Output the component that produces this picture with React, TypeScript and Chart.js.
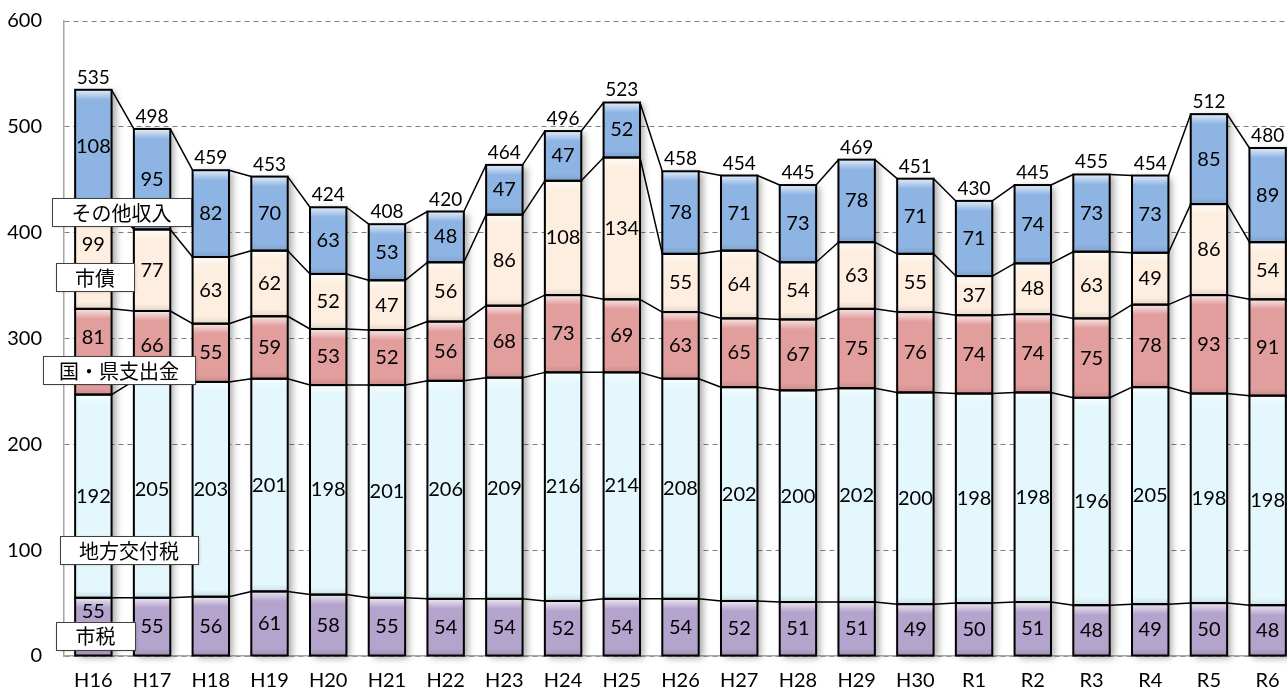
import React, { useEffect, useRef } from "react";
import { Chart, registerables } from "chart.js";
Chart.register(...registerables);

const categories = ["H16","H17","H18","H19","H20","H21","H22","H23","H24","H25","H26","H27","H28","H29","H30","R1","R2","R3","R4","R5","R6"];
const shizei = [55,55,56,61,58,55,54,54,52,54,54,52,51,51,49,50,51,48,49,50,48];
const kofuzei = [192,205,203,201,198,201,206,209,216,214,208,202,200,202,200,198,198,196,205,198,198];
const shishutsukin = [81,66,55,59,53,52,56,68,73,69,63,65,67,75,76,74,74,75,78,93,91];
const shisai = [99,77,63,62,52,47,56,86,108,134,55,64,54,63,55,37,48,63,49,86,54];
const sonota = [108,95,82,70,63,53,48,47,47,52,78,71,73,78,71,71,74,73,73,85,89];
const seriesNames = ["市税","地方交付税","国・県支出金","市債","その他収入"];
const seriesValues = [shizei, kofuzei, shishutsukin, shisai, sonota];
const colors = ["#B4A3CC","#E3F7FD","#E29D9D","#FDEEDF","#8EB4E3"];
const totals = categories.map((_, i) => seriesValues.reduce((s, arr) => s + arr[i], 0));

const NUM_FONT = "Lato, 'Open Sans', sans-serif";
const JP_FONT = "'Noto Sans CJK JP', sans-serif";

// label boxes: series index, value-center (y), left offset from chart area, width
const legendBoxes = [
  { s: 4, v: 419.5, dx: -12, w: 139 },
  { s: 3, v: 358, dx: -8, w: 78 },
  { s: 2, v: 270, dx: -21, w: 152 },
  { s: 1, v: 100, dx: -4, w: 138 },
  { s: 0, v: 19, dx: -8, w: 79 },
];
// first-category label nudges (px) to avoid boxes
const firstNudge = [-15, 0, -14, -12, 0];

const customPlugin = {
  id: "custom",
  beforeDatasetsDraw(chart: any) {
    const ctx = chart.ctx;
    const n = chart.data.datasets.length;
    const topMeta = chart.getDatasetMeta(n - 1);
    const botMeta = chart.getDatasetMeta(0);
    ctx.save();
    ctx.shadowColor = "rgba(0,0,0,0.35)";
    ctx.shadowBlur = 7;
    ctx.shadowOffsetX = 4;
    ctx.shadowOffsetY = 2;
    ctx.fillStyle = "#ffffff";
    topMeta.data.forEach((el: any, i: number) => {
      const p = el.getProps(["x", "y", "width"], true);
      const b = botMeta.data[i].getProps(["base"], true);
      ctx.fillRect(p.x - p.width / 2, p.y, p.width, b.base - p.y);
    });
    ctx.restore();
  },
  afterDatasetsDraw(chart: any) {
    const ctx = chart.ctx;
    const n = chart.data.datasets.length;
    ctx.save();
    // bevel effect
    for (let d = 0; d < n; d++) {
      const meta = chart.getDatasetMeta(d);
      meta.data.forEach((el: any) => {
        const p = el.getProps(["x", "y", "base", "width"], true);
        const l = p.x - p.width / 2;
        const h = p.base - p.y;
        let g = ctx.createLinearGradient(0, p.y, 0, p.y + 10);
        g.addColorStop(0, "rgba(255,255,255,0.75)");
        g.addColorStop(1, "rgba(255,255,255,0)");
        ctx.fillStyle = g;
        ctx.fillRect(l, p.y, p.width, Math.min(10, h));
        g = ctx.createLinearGradient(0, p.base - 7, 0, p.base);
        g.addColorStop(0, "rgba(0,0,0,0)");
        g.addColorStop(1, "rgba(0,0,0,0.10)");
        ctx.fillStyle = g;
        ctx.fillRect(l, p.base - Math.min(7, h), p.width, Math.min(7, h));
      });
    }
    // borders
    ctx.strokeStyle = "#000";
    ctx.lineWidth = 2;
    for (let d = 0; d < n; d++) {
      const meta = chart.getDatasetMeta(d);
      meta.data.forEach((el: any) => {
        const p = el.getProps(["x", "y", "base", "width"], true);
        ctx.strokeRect(p.x - p.width / 2, p.y, p.width, p.base - p.y);
      });
    }
    // series lines
    ctx.lineWidth = 1.5;
    for (let d = 0; d < n; d++) {
      const meta = chart.getDatasetMeta(d);
      ctx.beginPath();
      for (let i = 0; i < meta.data.length - 1; i++) {
        const a = meta.data[i].getProps(["x", "y", "width"], true);
        const b = meta.data[i + 1].getProps(["x", "y", "width"], true);
        ctx.moveTo(a.x + a.width / 2, a.y);
        ctx.lineTo(b.x - b.width / 2, b.y);
      }
      ctx.stroke();
    }
    // value labels
    ctx.fillStyle = "#000";
    ctx.textAlign = "center";
    ctx.textBaseline = "middle";
    ctx.font = `20px ${NUM_FONT}`;
    for (let d = 0; d < n; d++) {
      const meta = chart.getDatasetMeta(d);
      meta.data.forEach((el: any, i: number) => {
        const p = el.getProps(["x", "y", "base"], true);
        const nudge = i === 0 ? firstNudge[d] : 0;
        ctx.fillText(String(seriesValues[d][i]), p.x, (p.y + p.base) / 2 + nudge);
      });
    }
    // totals
    const topMeta = chart.getDatasetMeta(n - 1);
    ctx.font = `19px ${NUM_FONT}`;
    ctx.textBaseline = "alphabetic";
    topMeta.data.forEach((el: any, i: number) => {
      const p = el.getProps(["x", "y"], true);
      ctx.fillText(String(totals[i]), p.x, p.y - 6);
    });
    ctx.restore();
  },
  afterDraw(chart: any) {
    const ctx = chart.ctx;
    const yScale = chart.scales.y;
    const left = chart.chartArea.left;
    ctx.save();
    ctx.font = `20px ${JP_FONT}`;
    ctx.textAlign = "center";
    ctx.textBaseline = "middle";
    legendBoxes.forEach((b) => {
      const cy = yScale.getPixelForValue(b.v);
      const h = 28;
      const x = left + b.dx;
      ctx.save();
      ctx.shadowColor = "rgba(0,0,0,0.25)";
      ctx.shadowBlur = 3;
      ctx.shadowOffsetX = 1;
      ctx.shadowOffsetY = 1;
      ctx.fillStyle = "#fff";
      ctx.fillRect(x, cy - h / 2, b.w, h);
      ctx.restore();
      ctx.strokeStyle = "#404040";
      ctx.lineWidth = 1;
      ctx.strokeRect(Math.round(x) + 0.5, Math.round(cy - h / 2) + 0.5, b.w, h);
      ctx.fillStyle = "#000";
      ctx.fillText(seriesNames[b.s], x + b.w / 2, cy + 1);
    });
    ctx.restore();
  },
};

export default function App() {
  const ref = useRef<HTMLCanvasElement | null>(null);
  useEffect(() => {
    if (!ref.current) return;
    const chart = new Chart(ref.current, {
      type: "bar",
      data: {
        labels: categories,
        datasets: seriesValues.map((vals, i) => ({
          label: seriesNames[i],
          data: vals,
          backgroundColor: colors[i],
          borderWidth: 0,
          barPercentage: 0.62,
          categoryPercentage: 1,
        })),
      },
      options: {
        responsive: false,
        animation: false,
        devicePixelRatio: 1,
        layout: { padding: { top: 21, right: 3, left: 0, bottom: 0 } },
        plugins: { legend: { display: false }, tooltip: { enabled: false } },
        scales: {
          x: {
            stacked: true,
            grid: { display: false, drawTicks: false },
            border: { display: true, color: "#A6A6A6", width: 1.5 },
            ticks: { color: "#000", font: { family: NUM_FONT, size: 20 }, padding: 13, maxRotation: 0, autoSkip: false },
            afterFit: (s: any) => { s.height = 37; },
          },
          y: {
            stacked: true,
            min: 0,
            max: 600,
            ticks: { stepSize: 100, color: "#000", font: { family: NUM_FONT, size: 20 }, padding: 0 },
            grid: { color: "#7F7F7F", lineWidth: 1, drawTicks: true, tickLength: 22, tickColor: "rgba(0,0,0,0)" },
            border: { display: true, color: "#A6A6A6", width: 1.5, dash: [5, 4] },
            afterFit: (s: any) => { s.width = 64; },
          },
        },
      },
      plugins: [customPlugin],
    });
    return () => chart.destroy();
  }, []);
  return (
    <div style={{ position: "absolute", left: 0, top: 0, width: 1287, height: 693, overflow: "hidden", background: "#fff" }}>
      <canvas ref={ref} width={1300} height={693} style={{ display: "block" }} />
    </div>
  );
}
